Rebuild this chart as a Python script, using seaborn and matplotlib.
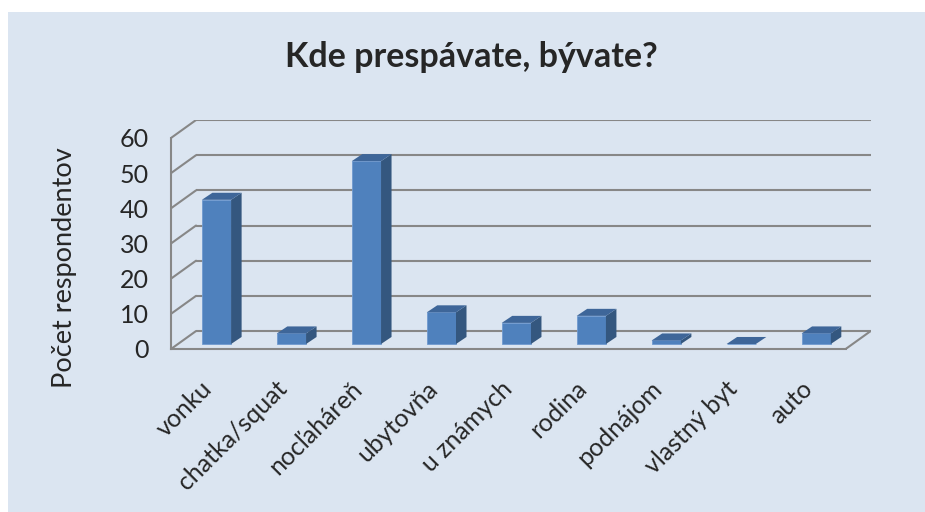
import numpy as np
import pandas as pd
import seaborn as sns
import matplotlib.pyplot as plt
import matplotlib.transforms as mtransforms
from matplotlib.patches import Polygon, Rectangle

# dati
kategorie = ['vonku', 'chatka/squat', 'nocľaháreň', 'ubytovňa', 'u známych',
             'rodina', 'podnájom', 'vlastný byt', 'auto']
pocty = [41, 3, 52, 9, 6, 8, 1, 0, 3]
y_ticky = [0, 10, 20, 30, 40, 50, 60]

titulok = 'Kde prespávate, bývate?'
y_nazov = 'Počet respondentov'

# farby
pozadie = '#DBE5F1'
predna = '#4F81BD'
bocna = '#34577F'
vrch = '#3E6699'
mriezka = '#878787'

# pseudo 3D posuny (v datovych jednotkach)
fx, fy = 0.107, 1.42    # predna hrana podlahy voci stlpcom
bx, by = 0.227, 3.69    # zadna stena voci stlpcom
dx, dy = 0.14, 2.0      # hlbka stlpca

sns.set_style('white')
plt.rcParams['font.family'] = ['Lato', 'DejaVu Sans']

df = pd.DataFrame({'kategoria': kategorie, 'pocet': pocty})

fig = plt.figure(figsize=(9.25, 5.12), dpi=100)
fig.patch.set_facecolor('white')
fig.patches.append(Rectangle((8 / 925, 0), 1, 1 - 12 / 512, transform=fig.transFigure,
                             facecolor=pozadie, edgecolor='none', zorder=-10))

ax = fig.add_axes([171 / 925, 163 / 512, 699.7 / 925, 229 / 512])
ax.set_facecolor('none')

sns.barplot(data=df, x='kategoria', y='pocet', color=predna, width=0.39,
            saturation=1, edgecolor='#6f9ad0', linewidth=0.6, ax=ax, zorder=5)

# bocne a horne steny stlpcov
for p in list(ax.patches):
    x0, w, h = p.get_x(), p.get_width(), p.get_height()
    ax.add_patch(Polygon([(x0 + w, 0), (x0 + w + dx, dy), (x0 + w + dx, h + dy), (x0 + w, h)],
                         closed=True, facecolor=bocna, edgecolor='none', zorder=5))
    ax.add_patch(Polygon([(x0, h), (x0 + w, h), (x0 + w + dx, h + dy), (x0 + dx, h + dy)],
                         closed=True, facecolor=vrch, edgecolor='none', zorder=5))

n = len(kategorie)
lavo_p = -0.5 - fx
lavo_z = -0.5 + bx
pravo_p = n - 0.5 - fx
pravo_z = n - 0.5 + bx

# zadna stena a bocne ciary
for v in y_ticky:
    ax.plot([lavo_z, pravo_z], [v + by, v + by], color=mriezka, lw=1.5, zorder=1,
            solid_capstyle='butt')
    ax.plot([lavo_p, lavo_z], [v - fy, v + by], color=mriezka, lw=1.5, zorder=1)
ax.plot([pravo_p, pravo_z], [-fy, by], color=mriezka, lw=1.5, zorder=1)

ax.set_xlim(lavo_p, pravo_z)
ax.set_ylim(-fy, max(y_ticky) + by)

for s in ['top', 'right']:
    ax.spines[s].set_visible(False)
for s in ['left', 'bottom']:
    ax.spines[s].set_color(mriezka)
    ax.spines[s].set_linewidth(1.5)
    ax.spines[s].set_zorder(2)
ax.spines['left'].set_bounds(-fy, max(y_ticky) - fy)
ax.spines['bottom'].set_bounds(lavo_p, pravo_p)

ax.set_yticks(np.array(y_ticky) - fy, labels=[str(v) for v in y_ticky])
ax.tick_params(axis='y', length=8, width=1.5, color=mriezka, labelsize=18, pad=8)

ax.set_xticks(np.arange(n) - fx, labels=kategorie)
ax.set_xticks(np.arange(n + 1) - 0.5 - fx, minor=True)
ax.tick_params(axis='x', which='major', length=0, labelsize=18, pad=20)
ax.tick_params(axis='x', which='minor', length=7, width=1.5, color=mriezka)
posun = mtransforms.ScaledTranslation(-8 / 100, 0, fig.dpi_scale_trans)
for t in ax.get_xticklabels():
    t.set_rotation(45)
    t.set_ha('right')
    t.set_rotation_mode('anchor')
    t.set_transform(t.get_transform() + posun)

ax.set_xlabel('')
ax.set_ylabel(y_nazov, fontsize=19.5)
ax.yaxis.set_label_coords(-0.134, 0.354)
ax.yaxis.label.set_va('bottom')

fig.text(471 / 925, 1 - 57 / 512, titulok, ha='center', va='center',
         fontsize=24.5, fontweight='bold')

fig.savefig('out.png', dpi=100)
